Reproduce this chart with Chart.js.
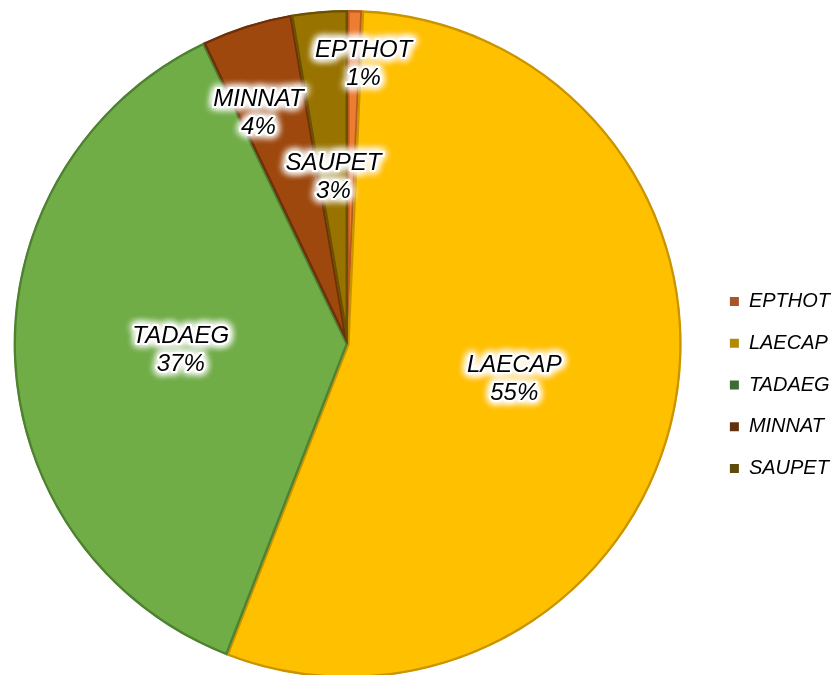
<!DOCTYPE html>
<html>
<head>
<meta charset="utf-8">
<script src="https://cdn.jsdelivr.net/npm/chart.js@4.4.1/dist/chart.umd.min.js"></script>
<style>
  html, body { margin: 0; padding: 0; background: #fff; }
  #wrap { width: 834px; height: 675px; }
</style>
</head>
<body>
<div id="wrap"><canvas id="pieChart"></canvas></div>
<script>
const labels = ['EPTHOT', 'LAECAP', 'TADAEG', 'MINNAT', 'SAUPET'];
const shares = [0.7, 55.2, 37.0, 4.4, 2.7];

const sliceColors = ['#ED7D31', '#FFC000', '#70AD47', '#9E480E', '#997300'];
const edgeColors = ['#B85A1E', '#C99400', '#4E8231', '#6E300A', '#6B5000'];
const legendColors = ['#A9542A', '#B38A08', '#3E6B30', '#62300E', '#5E4A0A'];

// where each label sits: fraction of the radius, and a small turn in degrees
const labelRadius = [0.84, 0.51, 0.5, 0.74, 0.5];
const labelShift = [2, 0, 0, -3.5, 0];

const total = shares.reduce((a, b) => a + b, 0);
const labelFont = '"Liberation Sans", Arial, sans-serif';

// labels in the slices, black italic text with a white glow
const sliceLabels = {
  id: 'sliceLabels',
  afterDatasetsDraw(chart) {
    const ctx = chart.ctx;
    const arcs = chart.getDatasetMeta(0).data;
    ctx.save();
    ctx.font = 'italic 24px ' + labelFont;
    ctx.textAlign = 'center';
    ctx.textBaseline = 'middle';
    arcs.forEach((arc, i) => {
      const p = arc.getProps(['x', 'y', 'startAngle', 'endAngle', 'outerRadius'], true);
      const a = (p.startAngle + p.endAngle) / 2 + labelShift[i] * Math.PI / 180;
      const r = p.outerRadius * labelRadius[i];
      const cx = p.x + Math.cos(a) * r;
      const cy = p.y + Math.sin(a) * r;
      const lines = [labels[i], Math.round(shares[i] / total * 100) + '%'];
      lines.forEach((t, k) => {
        const ty = cy + (k - 0.5) * 28;
        ctx.shadowColor = '#fff';
        ctx.shadowBlur = 8;
        ctx.strokeStyle = 'rgba(255,255,255,0.9)';
        ctx.lineWidth = 4;
        ctx.lineJoin = 'round';
        ctx.fillStyle = '#fff';
        for (let n = 0; n < 3; n++) {
          ctx.strokeText(t, cx, ty);
          ctx.fillText(t, cx, ty);
        }
        ctx.shadowBlur = 0;
        ctx.fillStyle = '#000';
        ctx.fillText(t, cx, ty);
      });
    });
    ctx.restore();
  }
};

// move the legend a little to the right of the pie's area
const legendShift = {
  id: 'legendShift',
  afterLayout(chart) {
    chart.legend.left += 13;
    chart.legend.right += 13;
  }
};

const ctx = document.getElementById('pieChart').getContext('2d');

const pieChart = new Chart(ctx, {
  type: 'pie',
  data: {
    labels: labels,
    datasets: [{
      data: shares,
      backgroundColor: sliceColors,
      borderColor: edgeColors,
      borderWidth: 2,
      borderAlign: 'inner'
    }]
  },
  options: {
    responsive: true,
    maintainAspectRatio: false,
    animation: false,
    radius: 334,
    layout: { padding: { top: 13, bottom: 0, left: 0, right: 7 } },
    plugins: {
      tooltip: { enabled: false },
      legend: {
        position: 'right',
        // empty title only pushes the items down
        title: { display: true, text: '', padding: { top: 70, bottom: 0 }, font: { size: 12, lineHeight: 1 } },
        labels: {
          boxWidth: 9,
          boxHeight: 9,
          padding: 21.7,
          color: '#000',
          font: { family: labelFont, size: 20, style: 'italic' },
          generateLabels: () => labels.map((t, i) => ({
            text: t,
            fillStyle: legendColors[i],
            strokeStyle: legendColors[i],
            fontColor: '#000',
            lineWidth: 0,
            hidden: false,
            index: i
          }))
        }
      }
    }
  },
  plugins: [sliceLabels, legendShift]
});
</script>
</body>
</html>
